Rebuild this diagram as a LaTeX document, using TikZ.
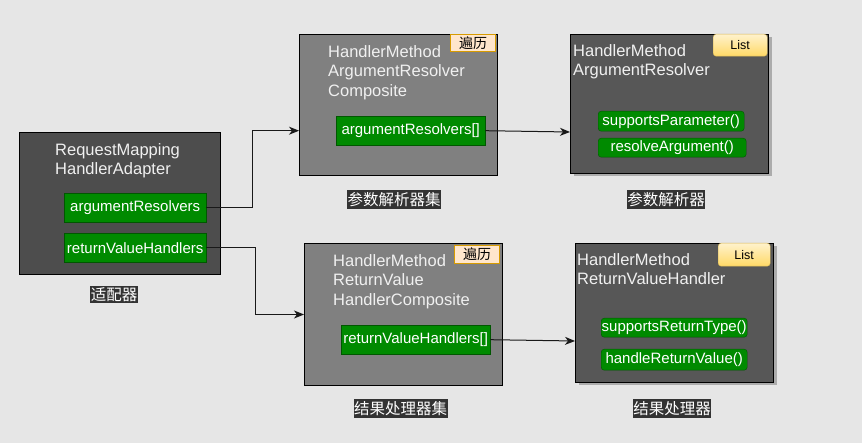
\documentclass[tikz,border=0pt]{standalone}
\usepackage{fontspec}
\setmainfont{Liberation Sans}
\newfontfamily\cjk{Noto Sans CJK SC}
\usetikzlibrary{arrows.meta,shadows}
\definecolor{bgcol}{HTML}{E6E6E6}
\definecolor{darkbox}{HTML}{4D4D4D}
\definecolor{midbox}{HTML}{808080}
\definecolor{itembox}{HTML}{575757}
\definecolor{fieldgreen}{HTML}{008A00}
\definecolor{fieldline}{HTML}{005700}
\definecolor{tagfill}{HTML}{FFE6CC}
\definecolor{tagline}{HTML}{D79B00}
\definecolor{listtop}{HTML}{FFF2CC}
\definecolor{listbot}{HTML}{FFD966}
\definecolor{listline}{HTML}{D6B656}
\definecolor{capfill}{HTML}{333333}
\tikzset{
  box/.style={draw=black, line width=1pt, anchor=north west, inner sep=0pt},
  shadowed/.style={drop shadow={shadow xshift=3pt, shadow yshift=-3pt, opacity=0.25, fill=black}},
  title/.style={text=white!94!black, font=\fontsize{16.5}{19.5}\selectfont, align=left, anchor=north west, inner sep=0pt},
  field/.style={draw=fieldline, fill=fieldgreen, text=white, font=\fontsize{15}{16}\selectfont, anchor=north west, inner sep=0pt},
  tag/.style={draw=tagline, fill=tagfill, line width=1pt, font=\cjk\fontsize{14}{14}\selectfont, anchor=north west, inner sep=0pt},
  listtag/.style={draw=listline, top color=listtop, bottom color=listbot, rounded corners=3pt, font=\fontsize{12.5}{13}\selectfont, anchor=north west, inner sep=0pt},
  caption/.style={fill=capfill, text=white, font=\cjk\fontsize{15.5}{16}\selectfont, inner xsep=0.5pt, inner ysep=0pt, minimum height=19pt},
  link/.style={draw=black!90, line width=1pt, -{Stealth[length=10pt,width=8pt,inset=3pt]}}
}
\begin{document}
\begin{tikzpicture}[x=1pt,y=-1pt]
  \fill[bgcol] (0,0) rectangle (862,443);
  \useasboundingbox (0,0) rectangle (862,443);

  % adapter
  \node[box, fill=darkbox, minimum width=201pt, minimum height=142pt] (adapter) at (19,132) {};
  \node[title] at (55,143) {RequestMapping\\HandlerAdapter};
  \node[field, minimum width=142pt, minimum height=29pt] (argres) at (64,193) {argumentResolvers};
  \node[field, minimum width=142pt, minimum height=29pt] (retval) at (64,233) {returnValueHandlers};
  \node[caption, minimum height=17pt] (adaptercap) at (114,294.5) {适配器};

  % composites
  \node[box, fill=midbox, minimum width=198pt, minimum height=141pt] (argcomp) at (299,34) {};
  \node[title] at (328,45) {HandlerMethod\\ArgumentResolver\\Composite};
  \node[tag, minimum width=45pt, minimum height=17pt] (argtag) at (450,34) {遍历};
  \node[field, minimum width=149pt, minimum height=29pt] (argarr) at (336,116) {argumentResolvers[]};
  \node[caption] (argcompcap) at (394,199.5) {参数解析器集};

  \node[box, fill=midbox, minimum width=198pt, minimum height=142pt] (retcomp) at (304,243) {};
  \node[title] at (333,254) {HandlerMethod\\ReturnValue\\HandlerComposite};
  \node[tag, minimum width=45pt, minimum height=18pt] (rettag) at (454,245) {遍历};
  \node[field, minimum width=149pt, minimum height=29pt] (retarr) at (341,325) {returnValueHandlers[]};
  \node[caption] (retcompcap) at (400.5,408.5) {结果处理器集};

  % single items
  \node[box, shadowed, fill=itembox, minimum width=198pt, minimum height=139pt] (argitem) at (570,34) {};
  \node[title] at (573,44) {HandlerMethod\\ArgumentResolver};
  \node[listtag, minimum width=54pt, minimum height=22pt] (arglist) at (713,34) {List};
  \node[field, rounded corners=3pt, minimum width=146pt, minimum height=20pt] (supparam) at (598,111) {supportsParameter()};
  \node[field, rounded corners=3pt, minimum width=148pt, minimum height=19pt] (resolve) at (598,138) {resolveArgument()};
  \node[caption] (argitemcap) at (666,199.5) {参数解析器};

  \node[box, shadowed, fill=itembox, minimum width=198pt, minimum height=139pt] (retitem) at (575,243) {};
  \node[title] at (577,253) {HandlerMethod\\ReturnValueHandler};
  \node[listtag, minimum width=52pt, minimum height=23pt] (retlist) at (718,243) {List};
  \node[field, rounded corners=3pt, minimum width=146pt, minimum height=19pt] (suptype) at (601,318) {supportsReturnType()};
  \node[field, rounded corners=3pt, minimum width=146pt, minimum height=21pt] (handle) at (601,349) {handleReturnValue()};
  \node[caption] (retitemcap) at (672,408.5) {结果处理器};

  \draw[link] (argres.east) -- ++(46,0) |- (argarr -| argcomp.west);
  \draw[link] (retval.east) -- ++(49,0) |- (retcomp.west);
  \draw[link] (argarr.east) -- ([yshift=-98pt]argitem.north west);
  \draw[link] (retarr.east) -- ([yshift=-98pt]retitem.north west);
\end{tikzpicture}
\end{document}
